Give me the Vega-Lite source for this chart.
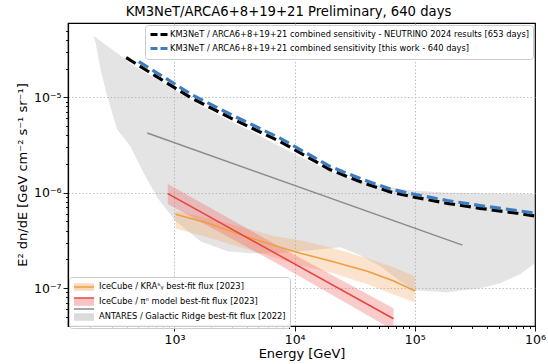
{
  "$schema": "https://vega.github.io/schema/vega-lite/v6.json",
  "width": 467,
  "height": 303,
  "autosize": {"type": "none"},
  "padding": {"left": 68, "top": 23, "right": 13, "bottom": 38},
  "background": "white",
  "config": {
    "font": "DejaVu Sans",
    "view": {"stroke": "black", "strokeWidth": 1.2},
    "axis": {
      "domainColor": "black",
      "domainWidth": 1.2,
      "tickColor": "black",
      "tickWidth": 0.9,
      "labelColor": "black",
      "labelFont": "DejaVu Sans",
      "labelFontSize": 12.5,
      "titleFont": "DejaVu Sans",
      "titleFontSize": 13,
      "titleFontWeight": "normal",
      "titleColor": "black",
      "gridColor": "#b0b0b0",
      "gridDash": [1.5, 2],
      "gridWidth": 0.8,
      "labelPadding": 2
    }
  },
  "title": {
    "text": "KM3NeT/ARCA6+8+19+21 Preliminary, 640 days",
    "font": "DejaVu Sans",
    "fontSize": 13.2,
    "fontWeight": "normal",
    "color": "black",
    "frame": "group",
    "offset": 4,
    "anchor": "middle",
    "dx": -13
  },
  "datasets": {
    "km3": [
      {"series": "KM3NeT / ARCA6+8+19+21 combined sensitivity - NEUTRINO 2024 results [653 days]", "E": 396.7, "F": 2.598e-5},
      {"series": "KM3NeT / ARCA6+8+19+21 combined sensitivity - NEUTRINO 2024 results [653 days]", "E": 602, "F": 1.873e-5},
      {"series": "KM3NeT / ARCA6+8+19+21 combined sensitivity - NEUTRINO 2024 results [653 days]", "E": 1000, "F": 1.259e-5},
      {"series": "KM3NeT / ARCA6+8+19+21 combined sensitivity - NEUTRINO 2024 results [653 days]", "E": 1358, "F": 9.93e-6},
      {"series": "KM3NeT / ARCA6+8+19+21 combined sensitivity - NEUTRINO 2024 results [653 days]", "E": 2977, "F": 6.01e-6},
      {"series": "KM3NeT / ARCA6+8+19+21 combined sensitivity - NEUTRINO 2024 results [653 days]", "E": 7605, "F": 3.418e-6},
      {"series": "KM3NeT / ARCA6+8+19+21 combined sensitivity - NEUTRINO 2024 results [653 days]", "E": 19810, "F": 1.734e-6},
      {"series": "KM3NeT / ARCA6+8+19+21 combined sensitivity - NEUTRINO 2024 results [653 days]", "E": 37250, "F": 1.265e-6},
      {"series": "KM3NeT / ARCA6+8+19+21 combined sensitivity - NEUTRINO 2024 results [653 days]", "E": 62460, "F": 1.017e-6},
      {"series": "KM3NeT / ARCA6+8+19+21 combined sensitivity - NEUTRINO 2024 results [653 days]", "E": 96990, "F": 9.01e-7},
      {"series": "KM3NeT / ARCA6+8+19+21 combined sensitivity - NEUTRINO 2024 results [653 days]", "E": 185950, "F": 7.73e-7},
      {"series": "KM3NeT / ARCA6+8+19+21 combined sensitivity - NEUTRINO 2024 results [653 days]", "E": 349550, "F": 6.85e-7},
      {"series": "KM3NeT / ARCA6+8+19+21 combined sensitivity - NEUTRINO 2024 results [653 days]", "E": 657700, "F": 6.16e-7},
      {"series": "KM3NeT / ARCA6+8+19+21 combined sensitivity - NEUTRINO 2024 results [653 days]", "E": 1000000, "F": 5.68e-7},
      {"series": "KM3NeT / ARCA6+8+19+21 combined sensitivity [this work - 640 days]", "E": 505, "F": 2.366e-5},
      {"series": "KM3NeT / ARCA6+8+19+21 combined sensitivity [this work - 640 days]", "E": 602, "F": 2.06e-5},
      {"series": "KM3NeT / ARCA6+8+19+21 combined sensitivity [this work - 640 days]", "E": 1000, "F": 1.385e-5},
      {"series": "KM3NeT / ARCA6+8+19+21 combined sensitivity [this work - 640 days]", "E": 1358, "F": 1.082e-5},
      {"series": "KM3NeT / ARCA6+8+19+21 combined sensitivity [this work - 640 days]", "E": 2977, "F": 6.55e-6},
      {"series": "KM3NeT / ARCA6+8+19+21 combined sensitivity [this work - 640 days]", "E": 7605, "F": 3.709e-6},
      {"series": "KM3NeT / ARCA6+8+19+21 combined sensitivity [this work - 640 days]", "E": 19810, "F": 1.873e-6},
      {"series": "KM3NeT / ARCA6+8+19+21 combined sensitivity [this work - 640 days]", "E": 37250, "F": 1.366e-6},
      {"series": "KM3NeT / ARCA6+8+19+21 combined sensitivity [this work - 640 days]", "E": 62460, "F": 1.093e-6},
      {"series": "KM3NeT / ARCA6+8+19+21 combined sensitivity [this work - 640 days]", "E": 96990, "F": 9.64e-7},
      {"series": "KM3NeT / ARCA6+8+19+21 combined sensitivity [this work - 640 days]", "E": 185950, "F": 8.27e-7},
      {"series": "KM3NeT / ARCA6+8+19+21 combined sensitivity [this work - 640 days]", "E": 349550, "F": 7.32e-7},
      {"series": "KM3NeT / ARCA6+8+19+21 combined sensitivity [this work - 640 days]", "E": 657700, "F": 6.58e-7},
      {"series": "KM3NeT / ARCA6+8+19+21 combined sensitivity [this work - 640 days]", "E": 1000000, "F": 6.07e-7}
    ],
    "bands": [
      {"model": "ANTARES / Galactic Ridge best-fit flux [2022]", "E": 213.4, "lo": 4.25e-5, "F": 4.386e-5},
      {"model": "ANTARES / Galactic Ridge best-fit flux [2022]", "E": 220.4, "lo": 3.738e-5, "F": 4.25e-5},
      {"model": "ANTARES / Galactic Ridge best-fit flux [2022]", "E": 242.6, "lo": 1.956e-5, "F": 3.895e-5},
      {"model": "ANTARES / Galactic Ridge best-fit flux [2022]", "E": 275.8, "lo": 1.024e-5, "F": 3.45e-5},
      {"model": "ANTARES / Galactic Ridge best-fit flux [2022]", "E": 334, "lo": 4.571e-6, "F": 2.884e-5},
      {"model": "ANTARES / Galactic Ridge best-fit flux [2022]", "E": 391.5, "lo": 3.587e-6, "F": 2.493e-5},
      {"model": "ANTARES / Galactic Ridge best-fit flux [2022]", "E": 430.8, "lo": 3.028e-6, "F": 2.263e-5},
      {"model": "ANTARES / Galactic Ridge best-fit flux [2022]", "E": 552.5, "lo": 1.612e-6, "F": 1.864e-5},
      {"model": "ANTARES / Galactic Ridge best-fit flux [2022]", "E": 722.2, "lo": 8.795e-7, "F": 1.536e-5},
      {"model": "ANTARES / Galactic Ridge best-fit flux [2022]", "E": 1019, "lo": 5.037e-7, "F": 1.176e-5},
      {"model": "ANTARES / Galactic Ridge best-fit flux [2022]", "E": 1645, "lo": 3.102e-7, "F": 8.179e-6},
      {"model": "ANTARES / Galactic Ridge best-fit flux [2022]", "E": 2758, "lo": 2.433e-7, "F": 5.825e-6},
      {"model": "ANTARES / Galactic Ridge best-fit flux [2022]", "E": 4283, "lo": 2.318e-7, "F": 4.461e-6},
      {"model": "ANTARES / Galactic Ridge best-fit flux [2022]", "E": 7605, "lo": 2.318e-7, "F": 3.028e-6},
      {"model": "ANTARES / Galactic Ridge best-fit flux [2022]", "E": 13504, "lo": 2.493e-7, "F": 2.104e-6},
      {"model": "ANTARES / Galactic Ridge best-fit flux [2022]", "E": 23982, "lo": 2.682e-7, "F": 1.499e-6},
      {"model": "ANTARES / Galactic Ridge best-fit flux [2022]", "E": 35168, "lo": 2.208e-7, "F": 1.328e-6},
      {"model": "ANTARES / Galactic Ridge best-fit flux [2022]", "E": 51573, "lo": 1.692e-7, "F": 1.205e-6},
      {"model": "ANTARES / Galactic Ridge best-fit flux [2022]", "E": 75607, "lo": 1.176e-7, "F": 1.094e-6},
      {"model": "ANTARES / Galactic Ridge best-fit flux [2022]", "E": 96985, "lo": 9.458e-8, "F": 1.05e-6},
      {"model": "ANTARES / Galactic Ridge best-fit flux [2022]", "E": 185954, "lo": 9.01e-8, "F": 1.0e-6},
      {"model": "ANTARES / Galactic Ridge best-fit flux [2022]", "E": 349547, "lo": 9.926e-8, "F": 9.856e-7},
      {"model": "ANTARES / Galactic Ridge best-fit flux [2022]", "E": 512861, "lo": 1.121e-7, "F": 9.784e-7},
      {"model": "ANTARES / Galactic Ridge best-fit flux [2022]", "E": 751623, "lo": 1.394e-7, "F": 9.737e-7},
      {"model": "ANTARES / Galactic Ridge best-fit flux [2022]", "E": 1000000, "lo": 1.82e-7, "F": 9.69e-7},
      {"model": "IceCube / KRA⁵ᵧ best-fit flux [2023]", "E": 1019, "lo": 4.21e-7, "F": 6.418e-7},
      {"model": "IceCube / KRA⁵ᵧ best-fit flux [2023]", "E": 1881, "lo": 3.417e-7, "F": 5.415e-7},
      {"model": "IceCube / KRA⁵ᵧ best-fit flux [2023]", "E": 3537, "lo": 2.682e-7, "F": 4.419e-7},
      {"model": "IceCube / KRA⁵ᵧ best-fit flux [2023]", "E": 6651, "lo": 2.104e-7, "F": 3.501e-7},
      {"model": "IceCube / KRA⁵ᵧ best-fit flux [2023]", "E": 11154, "lo": 1.734e-7, "F": 3.178e-7},
      {"model": "IceCube / KRA⁵ᵧ best-fit flux [2023]", "E": 20975, "lo": 1.428e-7, "F": 2.618e-7},
      {"model": "IceCube / KRA⁵ᵧ best-fit flux [2023]", "E": 40214, "lo": 1.094e-7, "F": 2.054e-7},
      {"model": "IceCube / KRA⁵ᵧ best-fit flux [2023]", "E": 66145, "lo": 8.585e-8, "F": 1.652e-7},
      {"model": "IceCube / KRA⁵ᵧ best-fit flux [2023]", "E": 100000, "lo": 7.07e-8, "F": 1.328e-7},
      {"model": "IceCube / π⁰ model best-fit flux [2023]", "E": 880, "lo": 7.58e-7, "F": 1.229e-6},
      {"model": "IceCube / π⁰ model best-fit flux [2023]", "E": 7650, "lo": 1.723e-7, "F": 2.669e-7},
      {"model": "IceCube / π⁰ model best-fit flux [2023]", "E": 66530, "lo": 3.613e-8, "F": 6.135e-8}
    ],
    "fits": [
      {"model": "ANTARES / Galactic Ridge best-fit flux [2022]", "E": 593, "F": 4.22e-6},
      {"model": "ANTARES / Galactic Ridge best-fit flux [2022]", "E": 249200, "F": 2.815e-7},
      {"model": "IceCube / KRA⁵ᵧ best-fit flux [2023]", "E": 1019, "F": 5.925e-7},
      {"model": "IceCube / KRA⁵ᵧ best-fit flux [2023]", "E": 1881, "F": 4.8e-7},
      {"model": "IceCube / KRA⁵ᵧ best-fit flux [2023]", "E": 3537, "F": 3.631e-7},
      {"model": "IceCube / KRA⁵ᵧ best-fit flux [2023]", "E": 6651, "F": 2.815e-7},
      {"model": "IceCube / KRA⁵ᵧ best-fit flux [2023]", "E": 11154, "F": 2.318e-7},
      {"model": "IceCube / KRA⁵ᵧ best-fit flux [2023]", "E": 20975, "F": 1.887e-7},
      {"model": "IceCube / KRA⁵ᵧ best-fit flux [2023]", "E": 40214, "F": 1.499e-7},
      {"model": "IceCube / KRA⁵ᵧ best-fit flux [2023]", "E": 66145, "F": 1.191e-7},
      {"model": "IceCube / KRA⁵ᵧ best-fit flux [2023]", "E": 100000, "F": 9.298e-8},
      {"model": "IceCube / π⁰ model best-fit flux [2023]", "E": 880, "F": 9.76e-7},
      {"model": "IceCube / π⁰ model best-fit flux [2023]", "E": 66530, "F": 4.763e-8}
    ]
  },
  "encoding": {
    "x": {
      "field": "E",
      "type": "quantitative",
      "scale": {"type": "log", "domain": [130, 1000000], "nice": false},
      "axis": {
        "title": "Energy [GeV]",
        "titleFontWeight": "normal",
        "titlePadding": 2,
        "values": [200, 300, 400, 500, 600, 700, 800, 900, 1000, 2000, 3000, 4000, 5000, 6000, 7000, 8000, 9000, 10000, 20000, 30000, 40000, 50000, 60000, 70000, 80000, 90000, 100000, 200000, 300000, 400000, 500000, 600000, 700000, 800000, 900000, 1000000],
        "labelExpr": "datum.value == 1000 ? '10³' : datum.value == 10000 ? '10⁴' : datum.value == 100000 ? '10⁵' : datum.value == 1000000 ? '10⁶' : ''",
        "labelFlush": false,
        "labelOverlap": false,
        "grid": true,
        "gridOpacity": {"condition": {"test": "indexof([1000, 10000, 100000], datum.value) >= 0", "value": 1}, "value": 0},
        "tickSize": {"condition": {"test": "indexof([1000, 10000, 100000, 1000000], datum.value) >= 0", "value": 5}, "value": 2.5}
      }
    },
    "y": {
      "field": "F",
      "type": "quantitative",
      "scale": {"type": "log", "domain": [4e-8, 6e-5], "nice": false},
      "axis": {
        "title": "E² dn/dE [GeV cm⁻² s⁻¹ sr⁻¹]",
        "titleFontWeight": "normal",
        "titlePadding": 4,
        "values": [5e-8, 6e-8, 7e-8, 8e-8, 9e-8, 1e-7, 2e-7, 3e-7, 4e-7, 5e-7, 6e-7, 7e-7, 8e-7, 9e-7, 1e-6, 2e-6, 3e-6, 4e-6, 5e-6, 6e-6, 7e-6, 8e-6, 9e-6, 1e-5, 2e-5, 3e-5, 4e-5, 5e-5],
        "labelExpr": "datum.value == 0.00001 ? '10⁻⁵' : datum.value == 0.000001 ? '10⁻⁶' : datum.value == 0.0000001 ? '10⁻⁷' : ''",
        "labelOverlap": false,
        "labelFlush": false,
        "grid": true,
        "gridOpacity": {"condition": {"test": "indexof([0.0000001, 0.000001, 0.00001], datum.value) >= 0", "value": 1}, "value": 0},
        "tickSize": {"condition": {"test": "indexof([0.0000001, 0.000001, 0.00001], datum.value) >= 0", "value": 5}, "value": 2.5}
      }
    }
  },
  "layer": [
    {
      "data": {"name": "bands"},
      "transform": [{"filter": "datum.model == 'ANTARES / Galactic Ridge best-fit flux [2022]'"}],
      "mark": {"type": "area", "fillOpacity": 0.3, "clip": true},
      "encoding": {
        "y2": {"field": "lo"},
        "fill": {
          "field": "model",
          "type": "nominal",
          "scale": {
            "domain": ["IceCube / KRA⁵ᵧ best-fit flux [2023]", "IceCube / π⁰ model best-fit flux [2023]", "ANTARES / Galactic Ridge best-fit flux [2022]"],
            "range": ["#f5a35c", "#f26b6b", "#a6a6a6"]
          },
          "legend": {
            "orient": "none",
            "legendX": 1,
            "legendY": 254,
            "title": null,
            "symbolType": "M-1,-0.75H3V0.75H-1Z",
            "symbolSize": 100,
            "symbolStrokeWidth": 1.5,
            "symbolStrokeColor": "transparent",
            "symbolOpacity": 0.4,
            "labelFont": "DejaVu Sans",
            "labelFontSize": 8.3,
            "labelColor": "black",
            "labelOffset": 14,
            "labelLimit": 0,
            "rowPadding": 1,
            "padding": 4,
            "strokeColor": "#cccccc",
            "fillColor": "rgba(255,255,255,0.8)",
            "cornerRadius": 3
          }
        }
      }
    },
    {
      "data": {"name": "bands"},
      "transform": [{"filter": "datum.model == 'IceCube / KRA⁵ᵧ best-fit flux [2023]'"}],
      "mark": {"type": "area", "fillOpacity": 0.3, "clip": true},
      "encoding": {
        "y2": {"field": "lo"},
        "fill": {"field": "model", "type": "nominal"}
      }
    },
    {
      "data": {"name": "bands"},
      "transform": [{"filter": "datum.model == 'IceCube / π⁰ model best-fit flux [2023]'"}],
      "mark": {"type": "area", "fillOpacity": 0.35, "clip": true},
      "encoding": {
        "y2": {"field": "lo"},
        "fill": {"field": "model", "type": "nominal"}
      }
    },
    {
      "data": {"name": "fits"},
      "mark": {"type": "line", "strokeWidth": 1.5, "clip": true},
      "encoding": {
        "color": {
          "field": "model",
          "type": "nominal",
          "sort": ["IceCube / KRA⁵ᵧ best-fit flux [2023]", "IceCube / π⁰ model best-fit flux [2023]", "ANTARES / Galactic Ridge best-fit flux [2022]"],
          "scale": {"range": ["#f39c3f", "#e8443a", "#8a8a8a"]},
          "legend": {
            "orient": "none",
            "legendX": 1,
            "legendY": 254,
            "title": null,
            "symbolType": "M-1,0H3",
            "symbolSize": 100,
            "symbolStrokeWidth": 1.5,
            "symbolFillColor": "transparent",
            "labelExpr": "' '",
            "labelFont": "DejaVu Sans",
            "labelFontSize": 8.3,
            "labelColor": "transparent",
            "labelOffset": 14,
            "labelLimit": 0,
            "rowPadding": 1,
            "padding": 4
          }
        }
      }
    },
    {
      "data": {"name": "km3"},
      "transform": [{"filter": "datum.series == 'KM3NeT / ARCA6+8+19+21 combined sensitivity - NEUTRINO 2024 results [653 days]'"}],
      "mark": {"type": "line", "strokeWidth": 3.2, "strokeDash": [11, 5], "strokeCap": "butt", "clip": true},
      "encoding": {
        "stroke": {
          "field": "series",
          "type": "nominal",
          "scale": {
            "domain": ["KM3NeT / ARCA6+8+19+21 combined sensitivity - NEUTRINO 2024 results [653 days]", "KM3NeT / ARCA6+8+19+21 combined sensitivity [this work - 640 days]"],
            "range": ["#000000", "#3d7dbf"]
          },
          "legend": {
            "orient": "top-right",
            "offset": 2,
            "title": null,
            "symbolType": "M-1,0H3.5",
            "symbolSize": 64,
            "symbolStrokeWidth": 3,
            "symbolDash": [7, 3],
            "labelFont": "DejaVu Sans",
            "labelFontSize": 8.3,
            "labelColor": "black",
            "labelOffset": 10,
            "labelLimit": 0,
            "rowPadding": 1,
            "padding": 4,
            "strokeColor": "#cccccc",
            "fillColor": "rgba(255,255,255,0.8)",
            "cornerRadius": 3
          }
        }
      }
    },
    {
      "data": {"name": "km3"},
      "transform": [{"filter": "datum.series == 'KM3NeT / ARCA6+8+19+21 combined sensitivity [this work - 640 days]'"}],
      "mark": {"type": "line", "strokeWidth": 3.2, "strokeDash": [11, 5], "strokeCap": "butt", "clip": true},
      "encoding": {
        "stroke": {"field": "series", "type": "nominal"}
      }
    }
  ]
}
